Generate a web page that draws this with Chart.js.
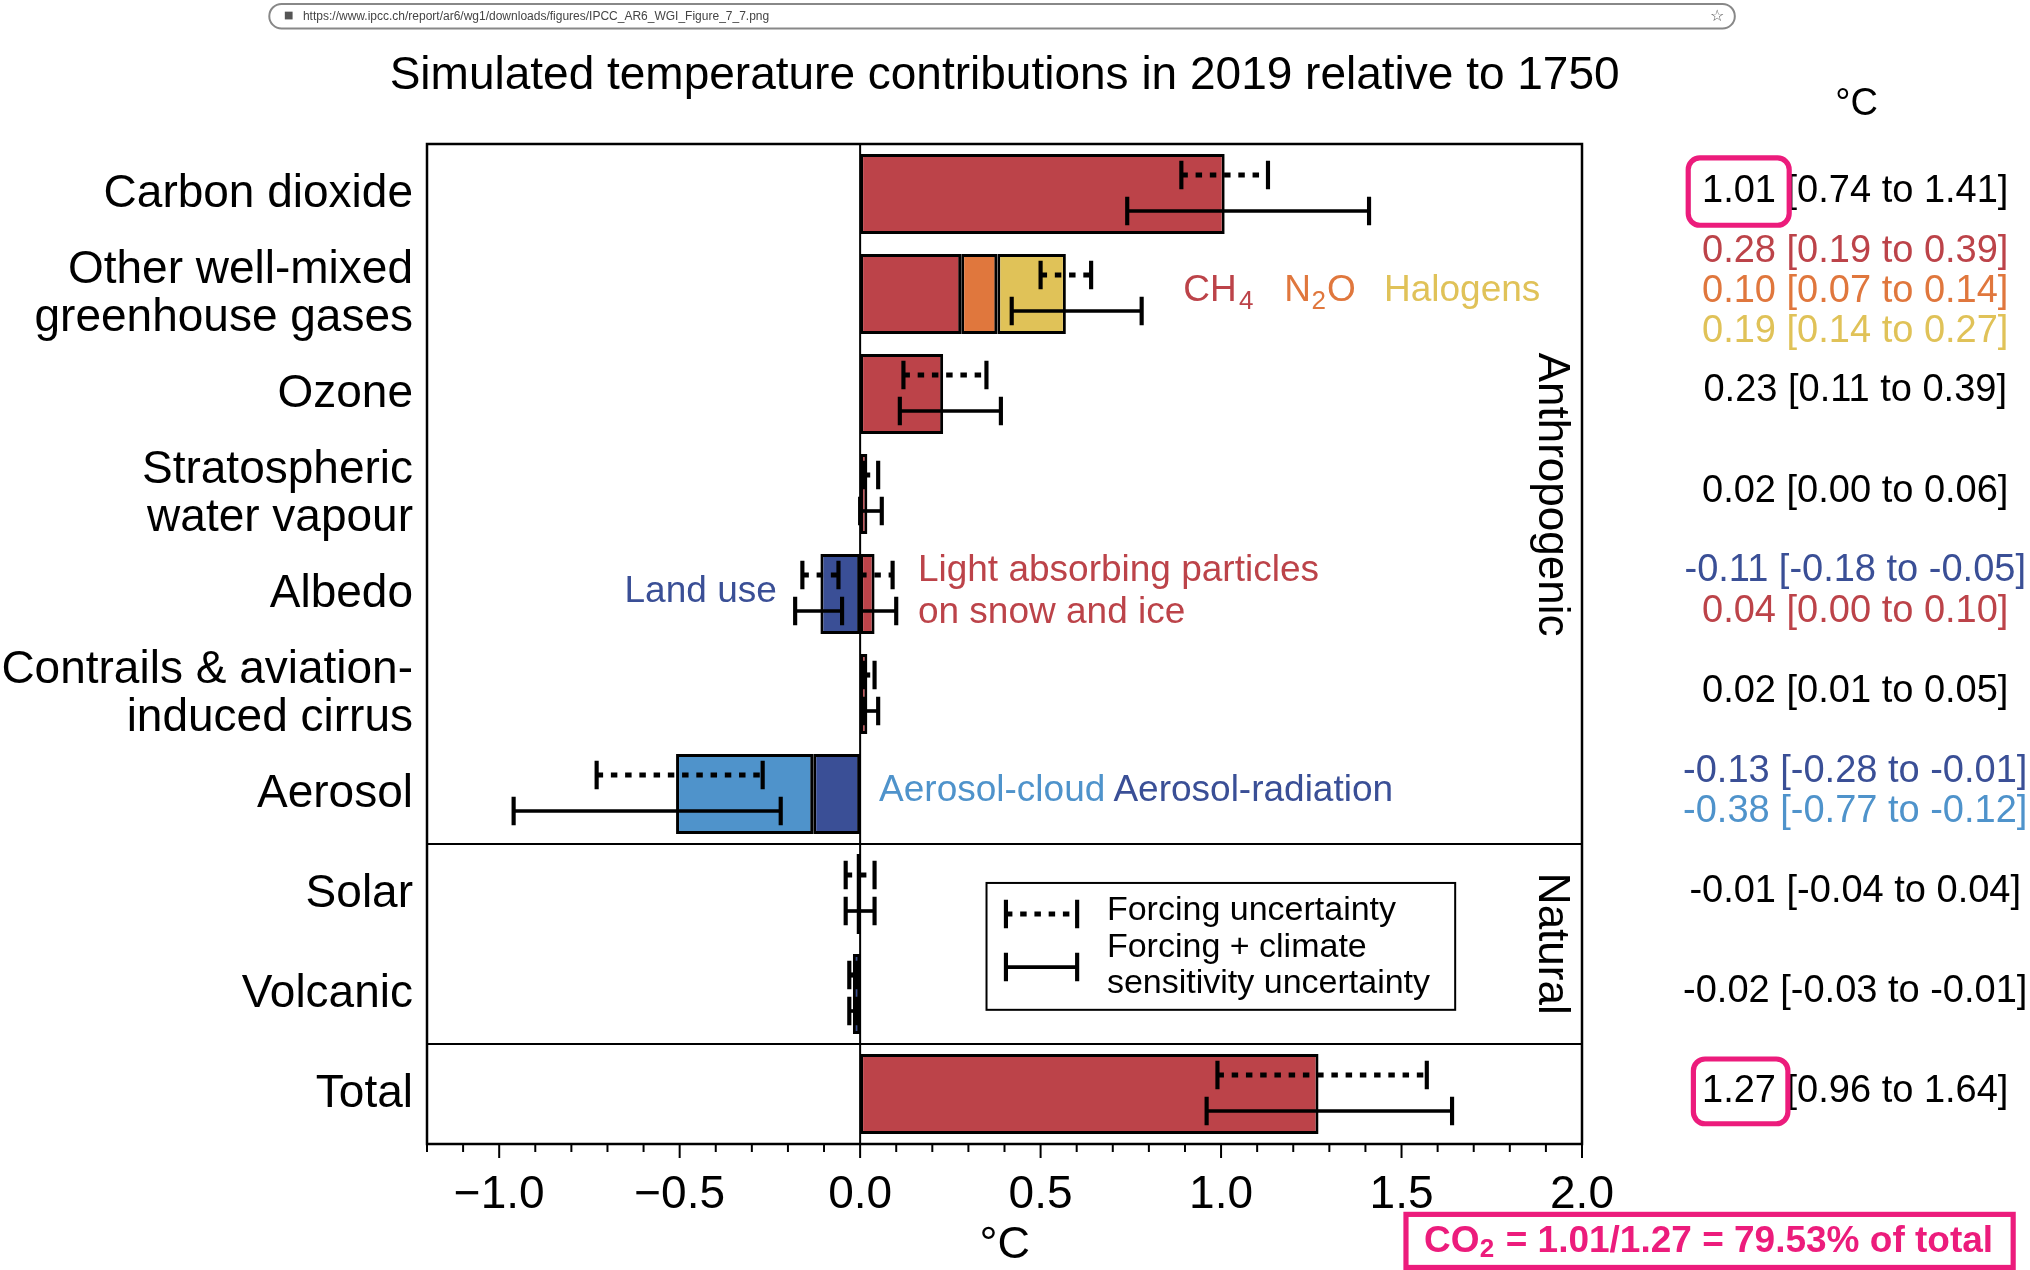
<!DOCTYPE html>
<html>
<head>
<meta charset="utf-8">
<script src="https://cdn.jsdelivr.net/npm/chart.js@4"></script>
<style>
  html, body { margin: 0; padding: 0; background: #fff; }
  #wrap { width: 2030px; height: 1270px; }
</style>
</head>
<body>
<div id="wrap"><canvas id="chart" width="2030" height="1270"></canvas></div>
<script>
// data
const categories = [
    ['Carbon dioxide'], ['Other well-mixed', 'greenhouse gases'], ['Ozone'],
    ['Stratospheric', 'water vapour'], ['Albedo'], ['Contrails & aviation-', 'induced cirrus'],
    ['Aerosol'], ['Solar'], ['Volcanic'], ['Total']
];
const redValues = [1.01, 0.28, 0.23, 0.02, 0.04, 0.02, null, null, null, 1.27];
const n2oValues = [null, 0.10, null, null, null, null, null, null, null, null];
const halogenValues = [null, 0.19, null, null, null, null, null, null, null, null];
const darkBlueValues = [null, null, null, null, -0.11, null, -0.13, -0.01, -0.02, null];
const lightBlueValues = [null, null, null, null, null, null, -0.38, null, null, null];

// [row, low, high]
const forcingRanges = [
    [0, 0.89, 1.13], [1, 0.50, 0.64], [2, 0.12, 0.35], [3, 0.01, 0.05],
    [4, -0.16, -0.06], [4, 0.00, 0.09], [5, 0.01, 0.04], [6, -0.73, -0.27],
    [7, -0.04, 0.04], [8, -0.03, -0.01], [9, 0.99, 1.57]
];
const totalRanges = [
    [0, 0.74, 1.41], [1, 0.42, 0.78], [2, 0.11, 0.39], [3, 0.00, 0.06],
    [4, -0.18, -0.05], [4, 0.00, 0.10], [5, 0.01, 0.05], [6, -0.96, -0.22],
    [7, -0.04, 0.04], [8, -0.03, -0.01], [9, 0.96, 1.64]
];

const xTicks = [-1.0, -0.5, 0.0, 0.5, 1.0, 1.5, 2.0];

const rightLabels = [
    ['1.01 [0.74 to 1.41]', 148, '#000'],
    ['0.28 [0.19 to 0.39]', 194, '#BC4349'],
    ['0.10 [0.07 to 0.14]', 225, '#E0773D'],
    ['0.19 [0.14 to 0.27]', 256, '#E0C258'],
    ['0.23 [0.11 to 0.39]', 302, '#000'],
    ['0.02 [0.00 to 0.06]', 380, '#000'],
    ['-0.11 [-0.18 to -0.05]', 441, '#3A4F96'],
    ['0.04 [0.00 to 0.10]', 472, '#BC4349'],
    ['0.02 [0.01 to 0.05]', 534, '#000'],
    ['-0.13 [-0.28 to -0.01]', 596, '#3A4F96'],
    ['-0.38 [-0.77 to -0.12]', 627, '#4F93CB'],
    ['-0.01 [-0.04 to 0.04]', 689, '#000'],
    ['-0.02 [-0.03 to -0.01]', 766, '#000'],
    ['1.27 [0.96 to 1.64]', 843, '#000']
];

const S = 2030 / 1568;
const FONT = '"Liberation Sans", Arial, sans-serif';
const RED = '#BC4349', ORANGE = '#E0773D', YELLOW = '#E0C258', DBLUE = '#3A4F96', LBLUE = '#4F93CB';
const PINK = '#EC1C7C';

function txt(ctx, s, x, y, size, color, align, weight) {
    ctx.font = (weight || '') + ' ' + Math.round(size * S) + 'px ' + FONT;
    ctx.fillStyle = color;
    ctx.textAlign = align || 'left';
    ctx.textBaseline = 'middle';
    ctx.fillText(s, x * S, y * S);
}

function errBar(ctx, x0, x1, y, dotted) {
    const cap = 11 * S;
    ctx.save();
    ctx.strokeStyle = '#000';
    ctx.lineWidth = 3.2 * S;
    ctx.beginPath();
    ctx.moveTo(x0, y - cap); ctx.lineTo(x0, y + cap);
    ctx.moveTo(x1, y - cap); ctx.lineTo(x1, y + cap);
    ctx.stroke();
    if (dotted) ctx.setLineDash([5 * S, 6 * S]);
    ctx.lineWidth = (dotted ? 4 : 2.8) * S;
    ctx.beginPath();
    ctx.moveTo(x0, y); ctx.lineTo(x1, y);
    ctx.stroke();
    ctx.restore();
}

const decorations = {
    id: 'decorations',
    beforeDatasetsDraw(chart) {
        const { ctx, chartArea: a, scales: { x } } = chart;
        // minor ticks
        ctx.save();
        ctx.strokeStyle = '#000';
        ctx.lineWidth = 2;
        for (let i = -12; i <= 20; i++) {
            const px = x.getPixelForValue(i / 10);
            const len = (i % 5 === 0) ? 14 : 8;
            ctx.beginPath();
            ctx.moveTo(px, a.bottom); ctx.lineTo(px, a.bottom + len);
            ctx.stroke();
        }
        ctx.restore();
    },
    afterDatasetsDraw(chart) {
        const { ctx, chartArea: a, scales: { x, y } } = chart;
        const rowH = y.getPixelForValue(1) - y.getPixelForValue(0);

        // zero line
        ctx.save();
        ctx.strokeStyle = '#000';
        ctx.lineWidth = 2;
        ctx.beginPath();
        ctx.moveTo(x.getPixelForValue(0), a.top);
        ctx.lineTo(x.getPixelForValue(0), a.bottom);
        ctx.stroke();
        // separators
        [6.5, 8.5].forEach(v => {
            const py = y.getPixelForValue(v);
            ctx.beginPath(); ctx.moveTo(a.left, py); ctx.lineTo(a.right, py); ctx.stroke();
        });
        // frame
        ctx.lineWidth = 2.5;
        ctx.strokeRect(a.left, a.top, a.right - a.left, a.bottom - a.top);
        ctx.restore();

        forcingRanges.forEach(r => {
            errBar(ctx, x.getPixelForValue(r[1]), x.getPixelForValue(r[2]),
                y.getPixelForValue(r[0]) - 0.19 * rowH, true);
        });
        totalRanges.forEach(r => {
            errBar(ctx, x.getPixelForValue(r[1]), x.getPixelForValue(r[2]),
                y.getPixelForValue(r[0]) + 0.17 * rowH, false);
        });
    },
    afterDraw(chart) {
        const ctx = chart.ctx;
        // url bar
        ctx.save();
        ctx.strokeStyle = '#888';
        ctx.lineWidth = 2;
        ctx.beginPath();
        ctx.roundRect(208 * S, 3 * S, 1132 * S, 19 * S, 10 * S);
        ctx.stroke();
        ctx.fillStyle = '#555';
        ctx.fillRect(220 * S, 9 * S, 6 * S, 6 * S);
        ctx.restore();
        txt(ctx, 'https://www.ipcc.ch/report/ar6/wg1/downloads/figures/IPCC_AR6_WGI_Figure_7_7.png', 234, 13, 9.5, '#444');
        txt(ctx, '\u2606', 1326, 13, 12, '#555', 'center');

        // title
        txt(ctx, 'Simulated temperature contributions in 2019 relative to 1750', 776, 59, 35.2, '#000', 'center');
        txt(ctx, '\u00B0C', 1434, 81, 29, '#000', 'center');
        txt(ctx, '\u00B0C', 776, 962, 35, '#000', 'center');

        // in-plot annotations
        txt(ctx, 'CH', 914, 225, 28.5, RED);
        txt(ctx, '4', 957, 233, 20, RED);
        txt(ctx, 'N', 992, 225, 28.5, ORANGE);
        txt(ctx, '2', 1013, 233, 20, ORANGE);
        txt(ctx, 'O', 1025, 225, 28.5, ORANGE);
        txt(ctx, 'Halogens', 1069, 225, 28.5, YELLOW);
        txt(ctx, 'Land use', 600, 457, 28.5, DBLUE, 'right');
        txt(ctx, 'Light absorbing particles', 709, 441, 28.5, RED);
        txt(ctx, 'on snow and ice', 709, 473, 28.5, RED);
        txt(ctx, 'Aerosol-cloud', 679, 611, 28.5, LBLUE);
        txt(ctx, 'Aerosol-radiation', 860, 611, 28.5, DBLUE);

        // rotated group labels
        [['Anthropogenic', 382], ['Natural', 729]].forEach(g => {
            ctx.save();
            ctx.translate(1198 * S, g[1] * S);
            ctx.rotate(Math.PI / 2);
            ctx.font = Math.round(34 * S) + 'px ' + FONT;
            ctx.fillStyle = '#000';
            ctx.textAlign = 'center';
            ctx.textBaseline = 'middle';
            ctx.fillText(g[0], 0, 0);
            ctx.restore();
        });

        // legend
        ctx.save();
        ctx.strokeStyle = '#000';
        ctx.lineWidth = 2;
        ctx.strokeRect(762 * S, 682 * S, 362 * S, 98 * S);
        ctx.restore();
        errBar(ctx, 777 * S, 832 * S, 706 * S, true);
        errBar(ctx, 777 * S, 832 * S, 747 * S, false);
        txt(ctx, 'Forcing uncertainty', 855, 703, 26, '#000');
        txt(ctx, 'Forcing + climate', 855, 732, 26, '#000');
        txt(ctx, 'sensitivity uncertainty', 855, 760, 26, '#000');

        // right column
        rightLabels.forEach(r => txt(ctx, r[0], 1433, r[1], 29, r[2], 'center'));

        // pink highlight boxes
        ctx.save();
        ctx.strokeStyle = PINK;
        ctx.lineWidth = 4 * S;
        ctx.beginPath(); ctx.roundRect(1304 * S, 122 * S, 78 * S, 52 * S, 9 * S); ctx.stroke();
        ctx.beginPath(); ctx.roundRect(1308 * S, 818 * S, 73 * S, 50 * S, 9 * S); ctx.stroke();
        ctx.strokeRect(1086 * S, 938 * S, 469 * S, 41 * S);
        ctx.restore();
        txt(ctx, 'CO', 1100, 959, 28.5, PINK, 'left', 'bold');
        txt(ctx, '2', 1143, 965, 20, PINK, 'left', 'bold');
        txt(ctx, '= 1.01/1.27 = 79.53% of total', 1163, 959, 28.5, PINK, 'left', 'bold');
    }
};

function ds(data, color) {
    return {
        data: data,
        backgroundColor: color,
        borderColor: '#000',
        borderWidth: 3,
        borderSkipped: false,
        barPercentage: 0.8,
        categoryPercentage: 1.0
    };
}

new Chart(document.getElementById('chart').getContext('2d'), {
    type: 'bar',
    data: {
        labels: categories,
        datasets: [
            ds(darkBlueValues, DBLUE),
            ds(redValues, RED),
            ds(n2oValues, ORANGE),
            ds(halogenValues, YELLOW),
            ds(lightBlueValues, LBLUE)
        ]
    },
    options: {
        indexAxis: 'y',
        responsive: false,
        animation: false,
        devicePixelRatio: 1,
        layout: { padding: { top: Math.round(111 * S), right: 2030 - Math.round(1222 * S), left: 0, bottom: 0 } },
        plugins: { legend: { display: false }, tooltip: { enabled: false } },
        scales: {
            x: {
                stacked: true,
                min: -1.2, max: 2.0,
                afterBuildTicks: axis => { axis.ticks = xTicks.map(v => ({ value: v })); },
                afterFit: axis => { axis.height = 1270 - Math.round(884 * S); },
                grid: { display: false, drawTicks: false },
                border: { display: false },
                ticks: {
                    padding: 24,
                    color: '#000',
                    font: { family: FONT, size: Math.round(35.5 * S) },
                    callback: v => (v < 0 ? '\u2212' : '') + Math.abs(v).toFixed(1)
                }
            },
            y: {
                stacked: true,
                afterFit: axis => { axis.width = Math.round(330 * S); },
                grid: { display: false, drawTicks: false },
                border: { display: false },
                ticks: {
                    padding: Math.round(11 * S),
                    color: '#000',
                    font: { family: FONT, size: Math.round(35.5 * S), lineHeight: 1.05 }
                }
            }
        }
    },
    plugins: [decorations]
});
</script>
</body>
</html>
